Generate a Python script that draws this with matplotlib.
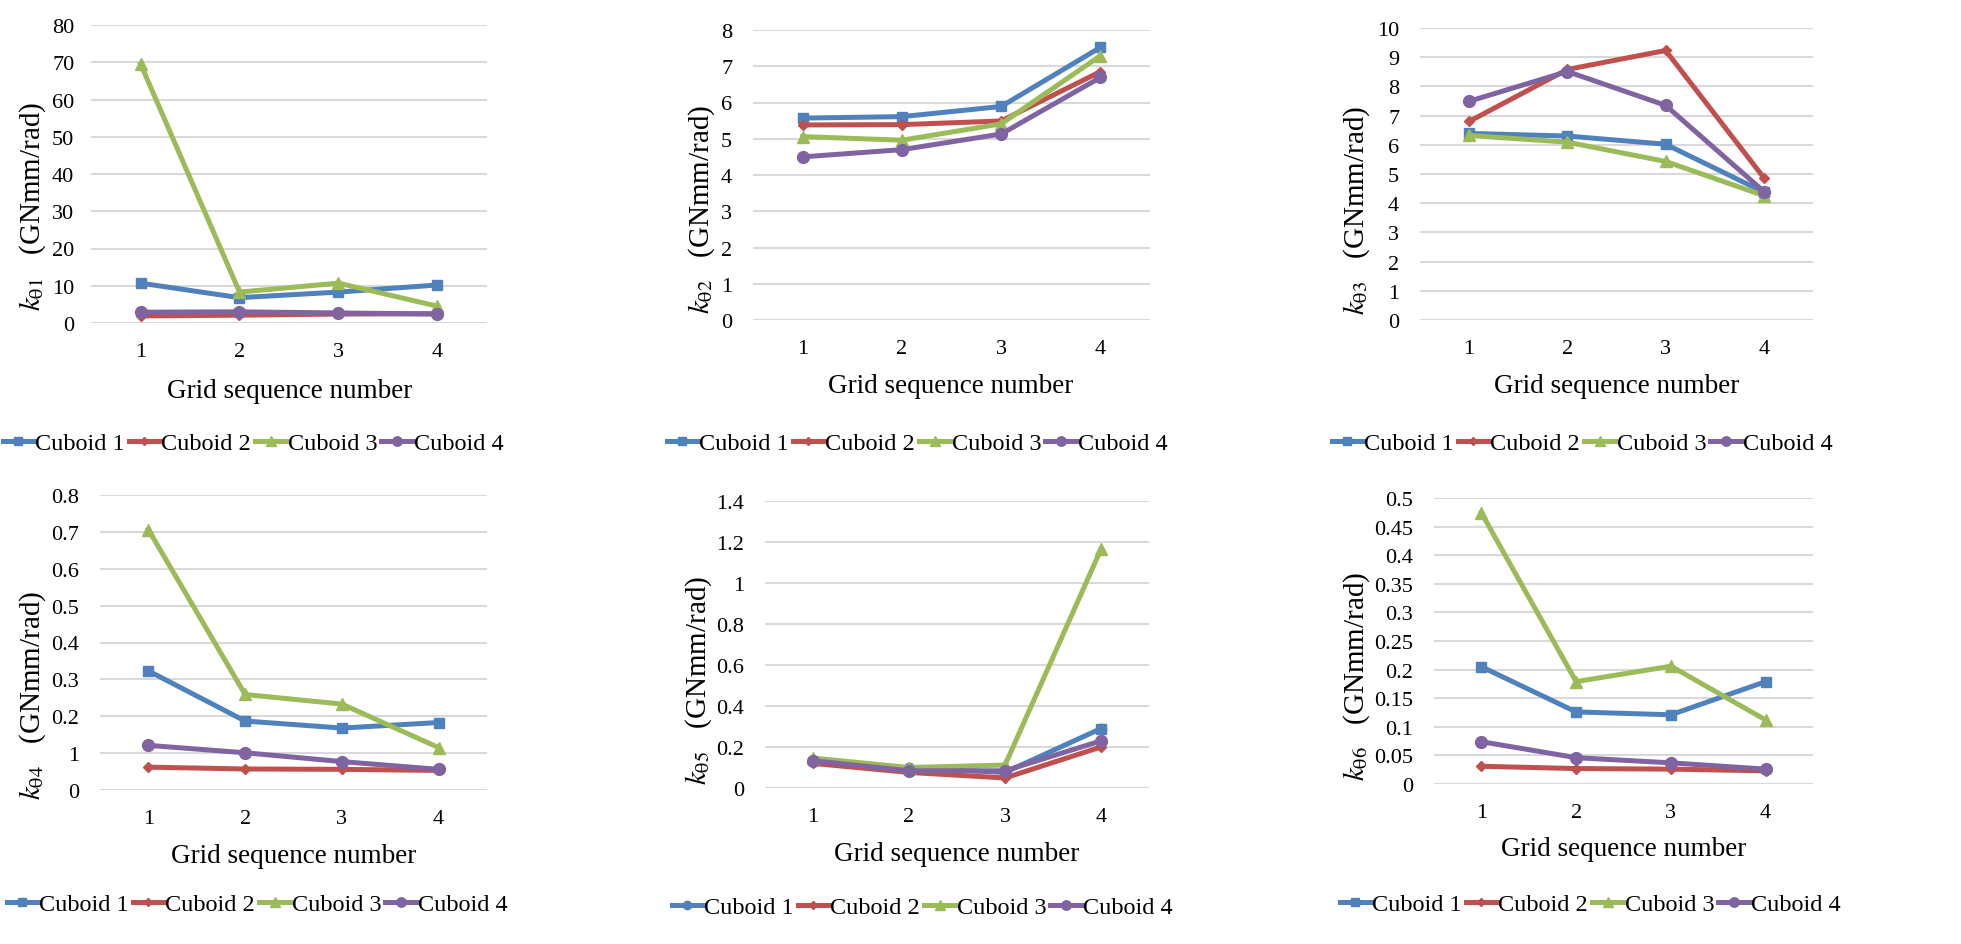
import matplotlib
matplotlib.use('Agg')
import matplotlib.pyplot as plt
import numpy as np

plt.rcParams['font.family'] = ['Liberation Serif', 'DejaVu Serif']
plt.rcParams['mathtext.fontset'] = 'stix'

W, H = 1961, 945

grid_no = [1, 2, 3, 4]
series_names = ['Cuboid 1', 'Cuboid 2', 'Cuboid 3', 'Cuboid 4']

# k_theta1
k1_c1 = [10.7, 6.8, 8.3, 10.2]
k1_c2 = [1.9, 2.1, 2.4, 2.5]
k1_c3 = [69.6, 8.3, 10.7, 4.5]
k1_c4 = [2.9, 3.0, 2.7, 2.4]
# k_theta2
k2_c1 = [5.57, 5.61, 5.89, 7.52]
k2_c2 = [5.38, 5.39, 5.49, 6.85]
k2_c3 = [5.06, 4.96, 5.41, 7.29]
k2_c4 = [4.50, 4.70, 5.13, 6.69]
# k_theta3
k3_c1 = [6.39, 6.30, 6.02, 4.38]
k3_c2 = [6.80, 8.58, 9.23, 4.87]
k3_c3 = [6.32, 6.09, 5.43, 4.26]
k3_c4 = [7.49, 8.51, 7.35, 4.40]
# k_theta4
k4_c1 = [0.323, 0.187, 0.168, 0.183]
k4_c2 = [0.062, 0.057, 0.056, 0.053]
k4_c3 = [0.706, 0.259, 0.233, 0.115]
k4_c4 = [0.121, 0.101, 0.077, 0.056]
# k_theta5
k5_c1 = [0.13, 0.097, 0.076, 0.29]
k5_c2 = [0.12, 0.076, 0.049, 0.20]
k5_c3 = [0.146, 0.10, 0.112, 1.165]
k5_c4 = [0.133, 0.084, 0.084, 0.23]
# k_theta6
k6_c1 = [0.205, 0.126, 0.121, 0.179]
k6_c2 = [0.031, 0.027, 0.026, 0.023]
k6_c3 = [0.474, 0.179, 0.206, 0.112]
k6_c4 = [0.074, 0.046, 0.037, 0.026]

yticks1 = [0, 10, 20, 30, 40, 50, 60, 70, 80]
yticks2 = [0, 1, 2, 3, 4, 5, 6, 7, 8]
yticks3 = list(range(0, 11))
yticks4 = [0, 0.1, 0.2, 0.3, 0.4, 0.5, 0.6, 0.7, 0.8]
ylabels4 = ['0', '1', '0.2', '0.3', '0.4', '0.5', '0.6', '0.7', '0.8']
yticks5 = [0, 0.2, 0.4, 0.6, 0.8, 1.0, 1.2, 1.4]
ylabels5 = ['0', '0.2', '0.4', '0.6', '0.8', '1', '1.2', '1.4']
yticks6 = [0, 0.05, 0.1, 0.15, 0.2, 0.25, 0.3, 0.35, 0.4, 0.45, 0.5]
ylabels6 = ['0', '0.05', '0.1', '0.15', '0.2', '0.25', '0.3', '0.35', '0.4', '0.45', '0.5']

colors = ['#4F81BD', '#C0504D', '#9BBB59', '#8064A2']
markers = ['s', 'D', '^', 'o']
msizes = [7.5, 5.5, 8.5, 8.5]

fig = plt.figure(figsize=(W / 100, H / 100), dpi=100)


def px_axes(x0, y0, x1, y1):
    return fig.add_axes([x0 / W, 1 - y1 / H, (x1 - x0) / W, (y1 - y0) / H])


def panel(box, data, yt, ytl, sub, ypad, ylab_xy, xlab_xy, leg_xy, mk=None):
    ax = px_axes(*box)
    mk = mk or markers
    for i, d in enumerate(data):
        ax.plot(grid_no, d, color=colors[i], marker=mk[i], markersize=msizes[i],
                linewidth=3.6, label=series_names[i], zorder=3)
    ax.set_xlim(0.5, 4.5)
    ax.set_ylim(yt[0], yt[-1])
    ax.set_yticks(yt)
    ax.set_yticklabels(ytl if ytl else [str(v) for v in yt])
    ax.set_xticks(grid_no)
    ax.tick_params(length=0, labelsize=16)
    ax.tick_params(axis='y', pad=ypad)
    ax.tick_params(axis='x', pad=14)
    ax.grid(axis='y', color='#D9D9D9', linewidth=1.5)
    ax.set_axisbelow(True)
    for s in ax.spines.values():
        s.set_visible(False)
    fig.text(ylab_xy[0] / W, 1 - ylab_xy[1] / H,
             r'$k_{\mathrm{\theta %s}}$   (GNmm/rad)' % sub, rotation=90,
             ha='center', va='center', fontsize=21)
    fig.text(xlab_xy[0] / W, 1 - xlab_xy[1] / H, 'Grid sequence number',
             ha='center', va='center', fontsize=19.5)
    handles, labels = ax.get_legend_handles_labels()
    fig.legend(handles, labels, loc='center',
               bbox_to_anchor=(leg_xy[0] / W, 1 - leg_xy[1] / H), ncol=4,
               frameon=False, fontsize=17.5, handlelength=1.3, handletextpad=0.05,
               columnspacing=0.15, borderpad=0, markerscale=0.8)
    return ax


panel((91, 26, 487, 324), [k1_c1, k1_c2, k1_c3, k1_c4], yticks1, None, '1', 12,
      (33, 206), (290, 392), (253, 444))
panel((753, 31, 1150, 321), [k2_c1, k2_c2, k2_c3, k2_c4], yticks2, None, '2', 15,
      (702, 209), (951, 387), (917, 444))
panel((1420, 29, 1813, 321), [k3_c1, k3_c2, k3_c3, k3_c4], yticks3, None, '3', 15,
      (1357, 210), (1617, 387), (1582, 444))
panel((100, 496, 487, 791), [k4_c1, k4_c2, k4_c3, k4_c4], yticks4, ylabels4, '4', 15,
      (33, 695), (294, 857), (257, 905))
ax5 = panel((765, 502, 1149, 789), [k5_c1, k5_c2, k5_c3, k5_c4], yticks5, ylabels5, '5', 15,
            (699, 680), (957, 855), (922, 908), mk=['o', 'D', '^', 'o'])
ax5.plot(grid_no[3:], k5_c1[3:], color=colors[0], marker='s', markersize=7.5,
         linestyle='none', zorder=4)
panel((1434, 499, 1813, 785), [k6_c1, k6_c2, k6_c3, k6_c4], yticks6, ylabels6, '6', 15,
      (1357, 676), (1624, 850), (1590, 905))

fig.savefig('out.png', dpi=100, facecolor='white')
